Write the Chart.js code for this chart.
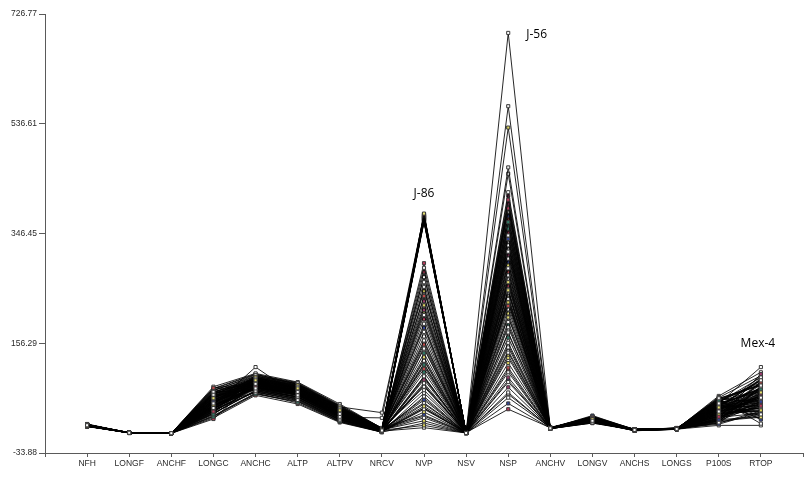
<!DOCTYPE html>
<html>
<head>
<meta charset="utf-8">
<script src="https://cdn.jsdelivr.net/npm/chart.js@4.4.1/dist/chart.umd.min.js"></script>
<style>
  html, body { margin: 0; padding: 0; background: #ffffff; }
  #wrap { width: 808px; height: 489px; }
</style>
</head>
<body>
<div id="wrap"><canvas id="c" width="808" height="489"></canvas></div>
<script>
// ---- categories (variables) ----
const categories = ['NFH','LONGF','ANCHF','LONGC','ANCHC','ALTP','ALTPV','NRCV','NVP','NSV','NSP','ANCHV','LONGV','ANCHS','LONGS','P100S','RTOP'];

// ---- y-axis tick labels ----
const yTicks = [-33.88, 156.29, 346.45, 536.61, 726.77];

// ---- values per variable (one entry per genotype, same order in every array) ----
const NFH = [14.2,13.5,15.1,12.8,13.9,14.6,12.3,15.4,13.1,14.8, 13.7,12.9,14.4,15.8,13.2,14.1,12.6,13.8,15.2,14.5, 13.3,12.7,14.9,13.6,15.5,14.0,12.4,13.4,14.7,15.0, 13.0,14.3,12.5,13.8,15.3,14.2,13.5,12.8,14.6,13.9, 15.6,13.2,14.0,12.9,13.7,14.8,15.1,13.4,12.6,14.4, 13.1,14.9,15.7,13.6,12.3,14.1,13.8,15.2,14.5,13.0, 12.7,14.3,13.5,15.0,14.7,13.3,12.5,14.2,16.4,11.8, 13.6,14.4,12.9,15.0,13.8,14.1,12.7,15.3,13.4,14.6, 13.1,14.9,12.6,13.9,15.5,14.3,13.0,14.7,12.8,13.7];
const LONGF = [1.2,0.9,1.4,1.0,1.1,0.8,1.3,1.5,0.9,1.2, 1.0,1.1,1.3,0.8,1.4,1.2,0.9,1.0,1.6,1.1, 1.3,0.9,1.2,1.0,1.4,1.1,0.8,1.2,1.5,1.0, 1.3,0.9,1.1,1.2,1.4,1.0,0.8,1.3,1.1,1.2, 0.9,1.5,1.0,1.3,1.1,1.2,0.9,1.4,1.0,1.1, 1.3,0.8,1.2,1.0,1.6,1.1,0.9,1.3,1.2,1.0, 1.4,1.1,0.9,1.2,1.0,1.3,1.5,0.8,1.1,1.2, 1.1,0.9,1.3,1.0,1.2,1.4,0.8,1.1,1.3,1.0, 1.2,0.9,1.5,1.1,1.0,1.3,0.8,1.2,1.4,1.0];
const ANCHF = [0.4,0.3,0.5,0.2,0.4,0.3,0.6,0.3,0.4,0.2, 0.5,0.3,0.4,0.3,0.2,0.5,0.4,0.3,0.6,0.4, 0.3,0.2,0.4,0.5,0.3,0.4,0.2,0.3,0.5,0.4, 0.3,0.6,0.4,0.2,0.3,0.5,0.4,0.3,0.2,0.4, 0.5,0.3,0.4,0.3,0.6,0.2,0.4,0.3,0.5,0.4, 0.3,0.4,0.2,0.5,0.3,0.4,0.6,0.3,0.4,0.2, 0.5,0.3,0.4,0.3,0.2,0.4,0.5,0.3,0.4,0.3, 0.3,0.5,0.4,0.2,0.4,0.3,0.5,0.4,0.2,0.3, 0.6,0.4,0.3,0.5,0.2,0.4,0.3,0.5,0.4,0.3];
const LONGC = [52,61,44,38,67,55,72,48,33,58, 63,41,79,50,46,69,36,57,74,42, 60,53,29,65,47,71,39,56,62,45, 81,51,35,68,43,59,76,49,37,64, 54,40,70,46,58,25,66,52,44,73, 61,34,57,48,77,42,63,50,31,68, 55,45,71,38,59,47,66,53,27,62, 58,47,66,39,71,53,44,62,35,75, 50,57,41,68,30,64,49,55,78,43];
const ANCHC = [86,92,78,81,95,88,74,98,83,90, 79,93,87,71,96,84,89,76,101,82, 91,85,68,94,80,99,87,77,92,83, 104,88,73,96,81,90,86,115,79,94, 85,72,97,88,82,91,78,100,84,87, 93,75,89,80,102,86,92,81,70,95, 84,88,76,97,83,90,79,93,66,87, 89,83,94,77,97,86,80,91,74,99, 85,88,72,95,69,92,81,87,103,79];
const ALTP = [72,78,66,69,81,74,63,84,70,76, 67,79,73,58,83,71,75,64,87,69, 77,72,55,80,68,85,74,62,78,70, 89,75,61,82,67,76,73,65,71,80, 72,57,83,74,69,77,66,86,70,73, 79,60,75,68,88,72,78,69,53,81, 71,74,63,82,70,76,67,79,51,73, 75,70,80,64,84,73,68,78,60,86, 71,74,59,82,56,77,66,72,85,63];
const ALTPV = [34,40,29,31,43,36,26,45,32,38, 30,41,35,23,44,33,37,27,48,31, 39,34,21,42,30,46,36,25,40,32, 51,37,24,43,29,38,35,28,33,42, 34,22,44,36,31,39,28,47,32,35, 41,24,37,30,49,34,40,31,20,43, 33,36,26,44,32,38,29,41,19,35, 37,33,42,27,45,35,30,40,24,47, 34,36,23,43,21,39,29,34,46,26];
const NRCV = [5.1,6.3,4.2,3.8,7.5,5.6,2.9,8.4,4.7,6.0, 3.5,7.1,5.3,2.6,8.9,4.4,6.6,3.2,9.6,4.9, 6.8,5.5,2.4,7.8,4.0,36,5.7,3.1,6.9,4.6, 9.1,5.9,2.8,8.1,3.7,6.4,5.2,27,4.3,7.3, 5.0,2.7,8.6,5.8,3.9,6.7,3.3,9.3,4.5,5.4, 7.0,2.5,6.1,4.1,8.8,5.0,6.5,3.6,2.3,7.6, 4.8,5.9,3.0,8.2,4.6,6.2,3.4,7.2,2.2,5.6, 5.3,4.1,6.9,3.4,8.0,5.8,2.9,7.4,4.5,6.2, 3.8,5.1,9.0,4.8,2.6,6.6,5.5,3.2,7.8,4.3];
const NVP = [176,381,99,378,287,58,376,222,139,27, 374,254,112,373,190,47,371,280,75,370, 205,14,369,161,93,368,238,42,377,132, 262,375,70,183,372,22,119,379,214,53, 367,147,271,380,87,198,374,32,168,247, 106,64,229,10,154,126,81,37,18,250, 218,186,150,116,84,61,44,30,96,128, 373,44,370,295,376,121,368,83,379,236, 371,158,377,51,366,210,375,98,372,272];
const NSV = [0.8,1.1,0.9,1.3,0.7,1.0,1.2,0.9,1.4,0.8, 1.1,0.6,1.0,1.3,0.9,1.2,0.8,1.5,1.0,0.7, 1.1,0.9,1.3,0.8,1.2,1.0,0.6,1.4,0.9,1.1, 0.8,1.3,1.0,0.7,1.2,0.9,1.1,1.5,0.8,1.0, 1.3,0.9,0.7,1.2,1.0,1.4,0.8,1.1,0.9,1.3, 1.0,0.6,1.2,0.8,1.1,0.9,1.4,1.0,0.7,1.2, 0.9,1.3,0.8,1.1,1.0,0.7,1.2,0.9,1.5,1.0, 1.0,0.8,1.2,0.9,1.3,1.1,0.7,1.4,0.9,1.0, 1.2,0.8,1.1,1.3,0.9,1.0,1.2,0.7,1.1,0.9];
const NSP = [694,248,315,405,567,337,193,530,366,286, 97,461,221,343,450,262,140,390,303,52, 418,227,355,175,398,274,114,326,384,201, 62,348,244,377,157,291,360,89,309,233, 372,184,268,131,332,42,250,297,215,122, 166,395,80,352,280,149,320,208,71,256, 106,310,270,235,188,143,412,68,330,238, 281,363,226,401,173,319,259,135,389,246, 203,340,110,296,264,375,153,230,325,92];
const ANCHV = [8.9,9.6,8.2,10.1,9.0,8.5,9.8,8.7,10.4,9.2, 8.4,9.5,8.8,10.0,9.3,8.1,9.7,8.9,10.6,9.1, 8.6,9.4,8.3,9.9,8.8,10.2,9.0,8.5,9.6,8.7, 10.3,9.2,8.4,9.8,8.9,9.5,8.2,10.0,9.1,8.6, 9.7,8.8,10.5,9.3,8.5,9.9,8.7,9.4,8.3,10.1, 9.0,8.6,9.6,8.9,10.2,9.2,8.4,9.8,8.8,9.5, 8.1,10.0,9.1,8.7,9.7,8.5,9.3,10.4,8.9,9.0, 9.2,8.7,9.9,8.4,9.5,10.1,8.8,9.3,8.6,9.8, 9.0,10.3,8.5,9.6,8.9,9.4,10.0,8.7,9.1,9.7];
const LONGV = [22,25,19,27,23,21,28,24,20,26, 18,29,23,22,25,20,27,24,21,31, 23,19,26,22,28,24,20,25,23,27, 21,24,18,26,22,29,23,20,25,28, 22,24,19,27,21,23,26,20,25,22, 28,24,21,30,23,19,26,22,25,24, 20,27,23,21,26,22,24,29,19,23, 24,21,26,23,28,20,25,22,27,24, 19,26,23,21,25,28,22,24,20,26];
const ANCHS = [6.1,5.4,6.8,5.0,6.3,7.2,5.7,6.5,4.8,6.9, 5.5,6.2,7.5,5.1,6.6,5.8,6.0,7.0,4.6,6.4, 5.3,6.7,5.9,7.3,5.2,6.1,6.8,5.6,6.3,4.9, 7.1,5.8,6.5,5.4,6.9,6.2,5.0,7.4,5.7,6.4, 6.0,5.5,6.7,5.2,7.0,6.3,5.9,4.7,6.6,5.6, 6.8,5.3,6.1,7.2,5.8,6.5,5.1,6.9,6.2,5.4, 7.6,5.7,6.0,6.4,5.0,6.7,5.5,7.1,6.3,5.9, 5.9,6.4,5.3,6.8,6.1,5.6,7.0,6.2,5.5,6.6, 5.8,6.3,7.2,5.1,6.0,6.7,5.4,6.5,5.7,6.1];
const LONGS = [7.6,8.2,7.1,8.8,7.9,7.3,8.5,7.7,9.1,8.0, 7.4,8.6,7.8,7.0,8.3,9.4,7.5,8.1,7.2,8.9, 7.9,8.4,7.6,9.0,7.3,8.2,7.8,8.7,7.1,8.0, 9.3,7.5,8.4,7.9,7.2,8.6,8.1,7.4,8.8,7.7, 8.3,7.0,9.2,7.8,8.5,7.6,8.0,7.3,8.9,7.9, 8.2,7.5,8.7,7.1,8.4,9.5,7.8,8.1,7.4,8.6, 7.7,8.3,7.2,9.0,7.9,8.5,7.6,8.0,8.8,7.3, 8.1,7.6,8.4,7.9,8.7,7.3,8.2,7.8,8.5,7.5, 8.0,8.8,7.4,8.3,7.7,8.6,7.2,8.1,7.9,8.4];
const P100S = [38,45,52,29,61,24,47,33,56,19, 42,36,58,27,49,22,54,31,44,16, 60,35,40,51,26,63,30,46,21,55, 39,48,25,57,34,43,18,50,37,62, 28,53,41,23,59,32,45,20,52,36, 47,65,30,43,24,56,38,49,14,41, 34,54,27,46,39,58,22,44,33,51, 43,31,55,26,48,37,60,22,45,34, 52,29,40,57,18,47,35,50,24,42];
const RTOP = [62,71,115,48,83,55,92,40,76,33, 68,57,88,45,79,28,97,52,64,37, 85,60,43,74,103,50,66,31,81,58, 94,46,70,24,87,54,39,78,62,100, 35,72,49,90,17,67,58,82,42,75, 61,106,47,69,29,86,53,77,14,65, 44,91,56,73,38,84,51,95,63,26, 59,80,47,72,36,88,54,66,99,41, 75,52,84,30,69,93,45,63,78,57];

// ---- labelled genotypes: name, series index, variable ----
const labelNames = ['J-56', 'J-86', 'Mex-4'];
const labelSeries = [0, 1, 2];
const labelVars = ['NSP', 'NVP', 'RTOP'];

const columns = [NFH, LONGF, ANCHF, LONGC, ANCHC, ALTP, ALTPV, NRCV, NVP, NSV, NSP, ANCHV, LONGV, ANCHS, LONGS, P100S, RTOP];
const xLabels = [''].concat(categories, ['']);
const nSeries = NFH.length;
const pointFills = ['#ffffff','#e6df70','#ffffff','#b8385a','#f0f0f0','#34469a','#ffffff','#d8d05a','#2f7d68','#ffffff','#9a3a6c','#e8e8e8','#c44a4a','#ffffff'];

const datasets = [];
for (let i = 0; i < nSeries; i++) {
  const data = [null].concat(columns.map(col => col[i]), [null]);
  datasets.push({
    label: 'G' + (i + 1),
    data: data,
    borderColor: '#000000',
    borderWidth: 0.85,
    pointStyle: 'rect',
    pointRadius: 2.2,
    pointBorderWidth: 1,
    pointBorderColor: '#3a3a3a',
    pointBackgroundColor: pointFills[i % pointFills.length],
    tension: 0,
    fill: false
  });
}

const labelPlugin = {
  id: 'genotypeLabels',
  afterDatasetsDraw(chart) {
    const ctx = chart.ctx;
    const xs = chart.scales.x, ys = chart.scales.y;
    ctx.save();
    ctx.font = '12px "Open Sans", "Noto Sans", sans-serif';
    ctx.fillStyle = '#000000';
    ctx.textBaseline = 'middle';
    labelNames.forEach((name, k) => {
      const ci = categories.indexOf(labelVars[k]);
      const v = columns[ci][labelSeries[k]];
      const px = xs.getPixelForValue(ci + 1);
      const py = ys.getPixelForValue(v);
      if (name === 'J-56') {
        ctx.textAlign = 'left';
        ctx.fillText(name, px + 18, py + 2);
      } else if (name === 'J-86') {
        ctx.textAlign = 'center';
        ctx.fillText(name, px, py - 20);
      } else {
        ctx.textAlign = 'center';
        ctx.fillText(name, px - 3, py - 23);
      }
    });
    ctx.restore();
  }
};

new Chart(document.getElementById('c'), {
  type: 'line',
  data: { labels: xLabels, datasets: datasets },
  options: {
    responsive: false,
    animation: false,
    devicePixelRatio: 1,
    layout: { padding: { left: 0, right: 5, top: 14, bottom: 0 } },
    plugins: { legend: { display: false }, tooltip: { enabled: false } },
    elements: { line: { borderCapStyle: 'butt' } },
    scales: {
      x: {
        type: 'category',
        offset: false,
        afterFit(scale) { scale.height = 36; },
        border: { display: true, color: '#5a5a5a', width: 1 },
        grid: { display: true, drawOnChartArea: false, drawTicks: true, tickLength: 4, color: '#5a5a5a' },
        ticks: {
          autoSkip: false, maxRotation: 0, minRotation: 0, padding: 2,
          color: '#2a2a2a',
          font: { family: '"Liberation Sans", Arial, sans-serif', size: 8.5 }
        }
      },
      y: {
        type: 'linear',
        min: yTicks[0],
        max: yTicks[yTicks.length - 1],
        afterFit(scale) { scale.width = 45; },
        afterBuildTicks(scale) { scale.ticks = yTicks.map(v => ({ value: v })); },
        border: { display: true, color: '#5a5a5a', width: 1 },
        grid: { display: true, drawOnChartArea: false, drawTicks: true, tickLength: 6, color: '#5a5a5a' },
        ticks: {
          padding: 2,
          color: '#2a2a2a',
          font: { family: '"Liberation Sans", Arial, sans-serif', size: 8.5 },
          callback: (v) => Number(v).toFixed(2)
        }
      }
    }
  },
  plugins: [labelPlugin]
});
</script>
</body>
</html>
